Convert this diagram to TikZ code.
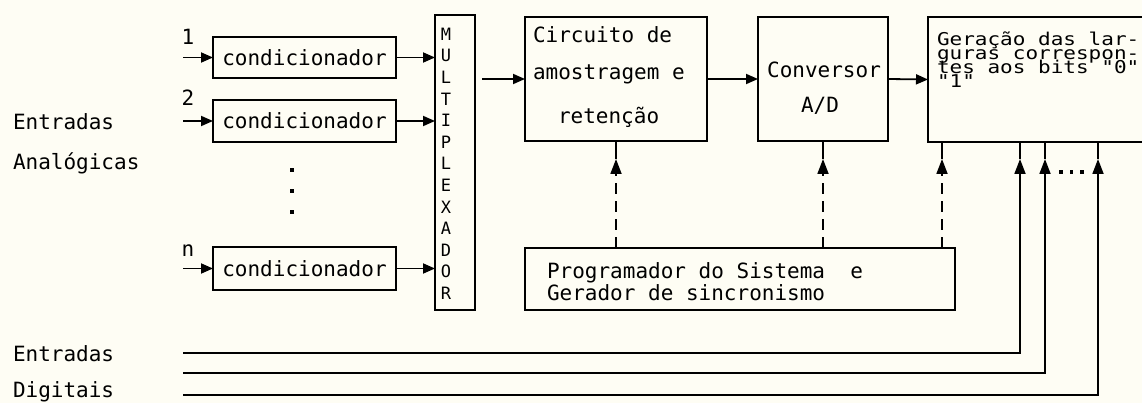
\documentclass[tikz,border=0pt]{standalone}
\usepackage{fontspec}
\usepackage{graphicx}
\newfontfamily\plotfont{DejaVu Sans Mono}
\usetikzlibrary{arrows.meta}
\definecolor{paper}{RGB}{254,253,244}
\newcommand{\squash}[1]{\scalebox{1}[0.84]{#1}}
\tikzset{
  box/.style={draw, line width=1.9pt, inner sep=0pt, outer sep=0pt},
  lbl/.style={inner sep=0pt, outer sep=0pt, font=\plotfont\fontsize{21pt}{25pt}\selectfont},
  txt/.style={lbl, anchor=base west},
  muxtxt/.style={inner sep=0pt, outer sep=0pt, align=center, font=\plotfont\fontsize{17pt}{21.6pt}\selectfont},
  wire/.style={line width=1.8pt},
  arr/.style={line width=1.8pt, -{Triangle[length=12pt,width=10pt]}},
  headup/.style={line width=1.8pt, -{Triangle[length=15pt,width=11pt]}},
  dsh/.style={line width=1.6pt, dash pattern=on 11pt off 7pt},
  dotmark/.style={fill, minimum size=3.8pt, inner sep=0pt, outer sep=0pt},
}
\begin{document}
\begin{tikzpicture}[x=1pt,y=-1pt]
\useasboundingbox (0,0) rectangle (1142,403);
\fill[paper] (0,0) rectangle (1142,403);
\clip (0,0) rectangle (1142,403);

% ---- left labels
\node[txt] (ea1) at (13,130) {Entradas};
\node[txt] (ea2) at (13,170) {Analógicas};
\node[txt] (ed1) at (13,361) {Entradas};
\node[txt] (ed2) at (13,397) {Digitais};

% ---- conditioner boxes
\node[box, lbl, minimum width=183pt, minimum height=41pt] (c1) at (304.5,57.5) {condicionador};
\node[box, lbl, minimum width=183pt, minimum height=42pt] (c2) at (304.5,121) {condicionador};
\node[box, lbl, minimum width=183pt, minimum height=43pt] (cn) at (304.5,268.5) {condicionador};

\node[lbl, anchor=base] (n1) at (188,45) {1};
\node[lbl, anchor=base] (n2) at (188,106) {2};
\node[lbl, anchor=base] (nn) at (188,257) {n};

\coordinate (i1) at (183,57.5);
\coordinate (i2) at (183,121);
\coordinate (inn) at (183,268.5);
\draw[arr] (i1) -- (c1.west);
\draw[arr] (i2) -- (c2.west);
\draw[arr] (inn) -- (cn.west);

\node[dotmark] (vd1) at (292,170) {};
\node[dotmark] (vd2) at (292,191) {};
\node[dotmark] (vd3) at (292,212) {};

% ---- multiplexer
\node[box, minimum width=40pt, minimum height=295pt] (mux) at (455,162.5) {};
\node[muxtxt, anchor=north] (muxl) at (446,28) {M\\U\\L\\T\\I\\P\\L\\E\\X\\A\\D\\O\\R};
\draw[arr] (c1.east) -- (c1.east -| mux.west);
\draw[arr] (c2.east) -- (c2.east -| mux.west);
\draw[arr] (cn.east) -- (cn.east -| mux.west);

% ---- main chain
\node[box, minimum width=182pt, minimum height=124pt] (circ) at (616,79) {};
\node[txt] (ct1) at (533,43) {Circuito de};
\node[txt] (ct2) at (533,80) {amostragem e};
\node[txt] (ct3) at (558,124) {retenção};

\node[box, minimum width=130pt, minimum height=124pt] (conv) at (823,79) {};
\node[lbl, anchor=base] (cv1) at (824,78) {Conversor};
\node[lbl, anchor=base] (cv2) at (820,113) {A/D};

\node[box, minimum width=242pt, minimum height=125pt] (gera) at (1049,79.5) {};
\node[txt] (g1) at (937,46) {\squash{Geração das lar-}};
\node[txt] (g2) at (937,60) {\squash{guras correspon-}};
\node[txt] (g3) at (937,74) {\squash{tes aos bits "0"}};
\node[txt] (g4) at (937,88) {\squash{"1"}};

\coordinate (m0) at (482,79);
\draw[arr] (m0) -- (circ.west);
\draw[arr] (circ.east) -- (conv.west);
\draw[arr] (conv.east) -- (gera.west);

% ---- programmer
\node[box, minimum width=430pt, minimum height=62pt] (prog) at (740,279) {};
\node[txt] (p1) at (547,278) {Programador do Sistema\ \ e};
\node[txt] (p2) at (547,300) {Gerador de sincronismo};

% dashed control lines
\coordinate (a1) at (616,248); \coordinate (ab1) at (616,176); \coordinate (at1) at (616,159);
\coordinate (a2) at (823,248); \coordinate (ab2) at (823,176); \coordinate (at2) at (823,159);
\coordinate (a3) at (942,248); \coordinate (ab3) at (942,176); \coordinate (at3) at (942,159);
\draw[dsh] (a1) -- (ab1);
\draw[dsh] (a2) -- (ab2);
\draw[dsh] (a3) -- (ab3);
\draw[headup] (ab1) -- (at1);
\draw[headup] (ab2) -- (at2);
\draw[headup] (ab3) -- (at3);
\draw[wire] (at1) -- (circ.south);
\draw[wire] (at2) -- (conv.south);
\draw[wire] (at3) -- (at3 |- gera.south);

% ---- digital inputs
\coordinate (d1) at (183,353); \coordinate (k1) at (1020,353);
\coordinate (d2) at (183,373); \coordinate (k2) at (1045,373);
\coordinate (d3) at (183,395); \coordinate (k3) at (1098,395);
\coordinate (kb1) at (1020,176); \coordinate (kt1) at (1020,159);
\coordinate (kb2) at (1045,176); \coordinate (kt2) at (1045,159);
\coordinate (kb3) at (1098,176); \coordinate (kt3) at (1098,159);
\draw[wire] (d1) -- (k1) -- (kb1);
\draw[wire] (d2) -- (k2) -- (kb2);
\draw[wire] (d3) -- (k3) -- (kb3);
\draw[headup] (kb1) -- (kt1);
\draw[headup] (kb2) -- (kt2);
\draw[headup] (kb3) -- (kt3);
\draw[wire] (kt1) -- (kt1 |- gera.south);
\draw[wire] (kt2) -- (kt2 |- gera.south);
\draw[wire] (kt3) -- (kt3 |- gera.south);

\node[dotmark] (hd1) at (1061,172) {};
\node[dotmark] (hd2) at (1071.5,172) {};
\node[dotmark] (hd3) at (1082,172) {};
\end{tikzpicture}
\end{document}
